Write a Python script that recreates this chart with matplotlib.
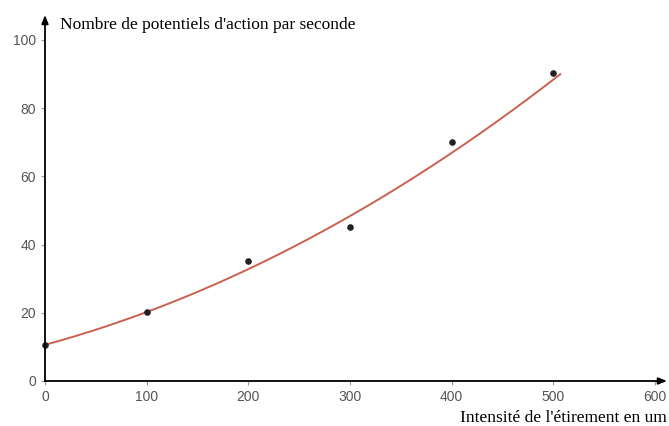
import numpy as np
import matplotlib.pyplot as plt

intensite = [0, 100, 200, 300, 400, 500]
potentiels = [10.5, 20.3, 35.3, 45.2, 70, 90.2]
# coefficients de la courbe de tendance (degre 2)
tendance = [1.483e-4, 0.0813, 10.6]
tendance_xmax = 507
x_ticks = [0, 100, 200, 300, 400, 500, 600]
y_ticks = [0, 20, 40, 60, 80, 100]

fig = plt.figure(figsize=(6.69, 4.26), dpi=100)
ax = fig.add_axes([45 / 669, 45 / 426, 622 / 669, 366 / 426])
ax.set_xlim(0, 612)
ax.set_ylim(0, 107.3)

xs = np.linspace(0, tendance_xmax, 200)
ax.plot(xs, np.polyval(tendance, xs), color='#c9614f', lw=1.4, zorder=2)
ax.scatter(intensite, potentiels, s=14, color='#222222', zorder=3, clip_on=False)

for s in ax.spines.values():
    s.set_visible(False)
ax.annotate('', xy=(612, 0), xytext=(0, 0), annotation_clip=False,
            arrowprops=dict(arrowstyle='-|>,head_length=0.5,head_width=0.2', color='black', lw=1.3,
                            shrinkA=0, shrinkB=0))
ax.annotate('', xy=(0, 107.3), xytext=(0, 0), annotation_clip=False,
            arrowprops=dict(arrowstyle='-|>,head_length=0.5,head_width=0.2', color='black', lw=1.3,
                            shrinkA=0, shrinkB=0))

ax.set_xticks(x_ticks)
ax.set_yticks(y_ticks)
ax.tick_params(length=3, width=0.8, colors='#999999', labelcolor='#555555', labelsize=10)
for lab in ax.get_xticklabels() + ax.get_yticklabels():
    lab.set_family('Liberation Sans')

fig.text(60 / 669, 1 - 25 / 426, "Nombre de potentiels d'action par seconde", family='Liberation Serif',
         fontsize=12.5, va='center', ha='left')
fig.text(667 / 669, 1 - 418 / 426, "Intensité de l'étirement en um", family='Liberation Serif',
         fontsize=12.5, va='center', ha='right')

fig.savefig('out.png', dpi=100)
